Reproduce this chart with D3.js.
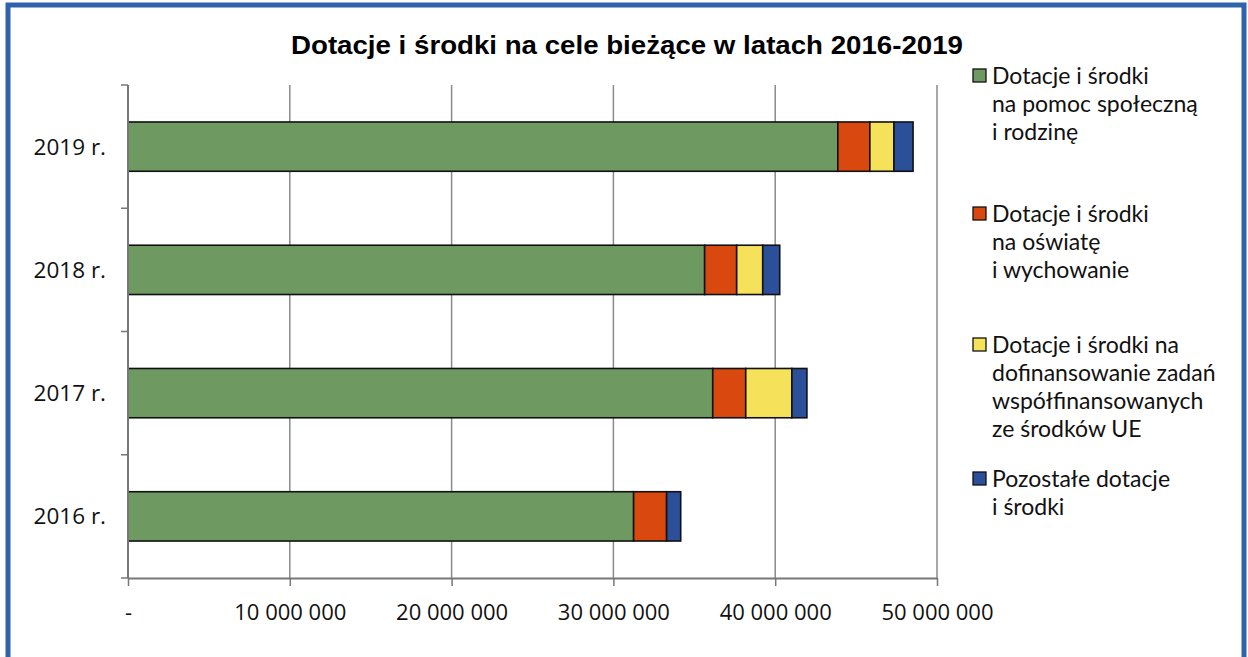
<!DOCTYPE html>
<html>
<head>
<meta charset="utf-8">
<script src="https://cdn.jsdelivr.net/npm/d3@7"></script>
<style>
  html, body { margin: 0; padding: 0; background: #fff; }
  svg { display: block; }
</style>
</head>
<body>
<div class="chart-container"></div>
<script>
//! CONSTS
const WIDTH = 1248;
const HEIGHT = 657;

//! DATA
const years = ['2019 r.', '2018 r.', '2017 r.', '2016 r.'];
const pomocSpoleczna = [43870000, 35640000, 36140000, 31250000];
const oswiata = [1980000, 1980000, 2040000, 2040000];
const srodkiUE = [1490000, 1610000, 2850000, 0];
const pozostale = [1180000, 1050000, 930000, 870000];
const xTicks = [0, 10000000, 20000000, 30000000, 40000000, 50000000];
const seriesNames = [
  ['Dotacje i środki', 'na pomoc społeczną', 'i rodzinę'],
  ['Dotacje i środki', 'na oświatę', 'i wychowanie'],
  ['Dotacje i środki na', 'dofinansowanie zadań', 'współfinansowanych', 'ze środków UE'],
  ['Pozostałe dotacje', 'i środki']
];
const colors = ['#6e9a62', '#d9480f', '#f5e15a', '#2c4f9a'];

const table = years.map((y, i) => ({
  year: y, s0: pomocSpoleczna[i], s1: oswiata[i], s2: srodkiUE[i], s3: pozostale[i]
}));
const keys = ['s0', 's1', 's2', 's3'];
const stacked = d3.stack().keys(keys)(table);

//! SVG
const svg = d3.select('.chart-container')
  .append('svg')
  .attr('width', WIDTH)
  .attr('height', HEIGHT);

// frame
svg.append('rect')
  .attr('x', 0).attr('y', 0).attr('width', WIDTH).attr('height', HEIGHT)
  .attr('fill', '#fff');
svg.append('path')
  .attr('d', `M8,${HEIGHT} V5 H${WIDTH - 4} V${HEIGHT}`)
  .attr('fill', 'none')
  .attr('stroke', '#2f63ad')
  .attr('stroke-width', 5);

// title
svg.append('text')
  .attr('x', 627).attr('y', 54)
  .attr('text-anchor', 'middle')
  .attr('font-family', 'Liberation Sans, Arial, sans-serif')
  .attr('font-weight', 'bold')
  .attr('font-size', 25)
  .attr('textLength', 672)
  .attr('lengthAdjust', 'spacingAndGlyphs')
  .text('Dotacje i środki na cele bieżące w latach 2016-2019');

//! SCALES
const x = d3.scaleLinear().domain([0, 50000000]).range([128, 937]);
const y = d3.scaleBand().domain(years).range([85, 578]).paddingInner(0.6).paddingOuter(0.3);
const yEdges = d3.scaleLinear().domain([0, years.length]).range([85, 578]);

// grid
svg.append('g')
  .selectAll('line')
  .data(xTicks.slice(1))
  .enter()
  .append('line')
  .attr('x1', d => x(d)).attr('x2', d => x(d))
  .attr('y1', 85).attr('y2', 578)
  .attr('stroke', '#8a8a8a')
  .attr('stroke-width', 1.5);

// bars
svg.append('g')
  .selectAll('g')
  .data(stacked)
  .enter()
  .append('g')
  .attr('fill', (d, i) => colors[i])
  .selectAll('rect')
  .data(d => d)
  .enter()
  .append('rect')
  .attr('x', d => x(d[0]))
  .attr('width', d => x(d[1]) - x(d[0]))
  .attr('y', d => y(d.data.year))
  .attr('height', y.bandwidth())
  .attr('stroke', d => (d[1] - d[0]) > 0 ? '#111' : 'none')
  .attr('stroke-width', 1.6);

// x axis
const xAxis = svg.append('g')
  .attr('transform', 'translate(0,578)')
  .call(d3.axisBottom(x).tickValues(xTicks).tickSize(8).tickSizeOuter(0)
    .tickFormat(d => d === 0 ? '-' : d3.format(',')(d).replace(/,/g, ' ')));
xAxis.select('.domain').attr('stroke', '#777').attr('stroke-width', 2);
xAxis.selectAll('.tick line').attr('stroke', '#777').attr('stroke-width', 1.5);
xAxis.selectAll('.tick text')
  .attr('dy', 0).attr('y', 42)
  .attr('fill', '#111')
  .attr('font-family', 'Open Sans, sans-serif')
  .attr('font-size', 22);

// y axis
svg.append('line')
  .attr('x1', 128).attr('x2', 128).attr('y1', 85).attr('y2', 578)
  .attr('stroke', '#777').attr('stroke-width', 2);
svg.append('g')
  .selectAll('line')
  .data(d3.range(years.length + 1))
  .enter()
  .append('line')
  .attr('x1', 121).attr('x2', 128)
  .attr('y1', d => yEdges(d)).attr('y2', d => yEdges(d))
  .attr('stroke', '#777').attr('stroke-width', 1.5);
svg.append('g')
  .selectAll('text')
  .data(years)
  .enter()
  .append('text')
  .attr('x', 106)
  .attr('y', d => y(d) + y.bandwidth() / 2)
  .attr('dy', '0.35em')
  .attr('text-anchor', 'end')
  .attr('fill', '#111')
  .attr('font-family', 'Open Sans, sans-serif')
  .attr('font-size', 22.5)
  .text(d => d);

//! LEGEND
const legendTop = [76, 214, 345, 479];
const legend = svg.append('g')
  .selectAll('g')
  .data(seriesNames)
  .enter()
  .append('g')
  .attr('transform', (d, i) => `translate(973,${legendTop[i]})`);
legend.append('rect')
  .attr('x', 0).attr('y', -7).attr('width', 13).attr('height', 13)
  .attr('fill', (d, i) => colors[i])
  .attr('stroke', '#111').attr('stroke-width', 1.3);
legend.each(function (lines) {
  d3.select(this).selectAll('text')
    .data(lines)
    .enter()
    .append('text')
    .attr('x', 19)
    .attr('y', (d, j) => j * 28)
    .attr('dy', '0.35em')
    .attr('fill', '#111')
    .attr('font-family', 'Lato, sans-serif')
    .attr('font-size', 23)
    .text(d => d);
});
</script>
</body>
</html>
